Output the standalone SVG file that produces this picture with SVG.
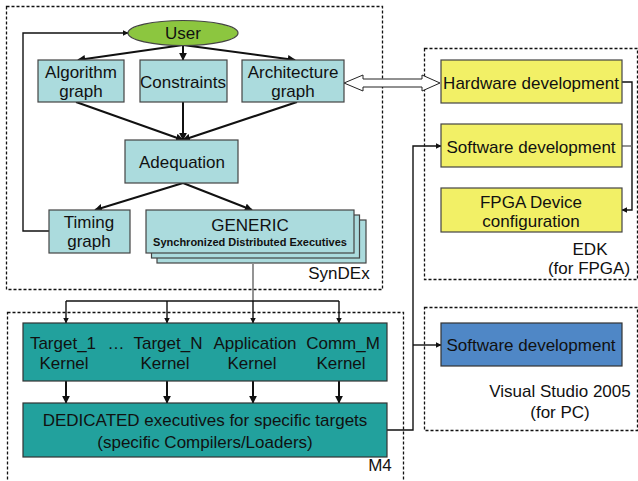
<svg xmlns="http://www.w3.org/2000/svg" width="638" height="481" viewBox="0 0 638 481">
<defs>
<style>
.t{font-family:"Liberation Sans",Arial,sans-serif;font-size:17px;fill:#111;text-anchor:middle}
.lb{fill:#abdbdd;stroke:#444;stroke-width:1.2}
.yl{fill:#f2f066;stroke:#444;stroke-width:1.2}
.tl{fill:#22a19d;stroke:#333;stroke-width:1.2}
.bl{fill:#4f87c6;stroke:#333;stroke-width:1.2}
.dash{fill:none;stroke:#111;stroke-width:1.3;stroke-dasharray:3,2}
.c{fill:none;stroke:#111;stroke-width:2}
.c1{fill:none;stroke:#111;stroke-width:1.4}
.g{fill:none;stroke:#666;stroke-width:1.4}
</style>
<marker id="a" viewBox="0 0 10 10" refX="9" refY="5" markerWidth="4" markerHeight="4" orient="auto"><path d="M0,0L10,5L0,10z" fill="#111"/></marker>
</defs>
<g id="containers">
<rect class="dash" x="6.5" y="6.5" width="376" height="283"/>
<rect class="dash" x="424.5" y="48.5" width="213" height="231"/>
<rect class="dash" x="7.5" y="312.5" width="396" height="175"/>
<rect class="dash" x="424.5" y="307.5" width="213" height="123"/>
<text class="t" x="339" y="279">SynDEx</text>
<text class="t" x="590" y="255">EDK</text>
<text class="t" x="589" y="274">(for FPGA)</text>
<text class="t" x="560" y="397">Visual Studio 2005</text>
<text class="t" x="560" y="418">(for PC)</text>
<text class="t" x="380" y="471">M4</text>
</g>
<g id="connectors">
<path class="c" d="M183,45L78,60" marker-end="url(#a)"/>
<path class="c" d="M183,45L183,60" marker-end="url(#a)"/>
<path class="c" d="M183,45L295,60" marker-end="url(#a)"/>
<path class="c" d="M76,102L183,140" marker-end="url(#a)"/>
<path class="c" d="M183,102L183,140" marker-end="url(#a)"/>
<path class="c" d="M297,102L183,140" marker-end="url(#a)"/>
<path class="c" d="M183,183L95,210" marker-end="url(#a)"/>
<path class="c" d="M183,183L252,210" marker-end="url(#a)"/>
<path class="c1" d="M49,231H23V33H128" marker-end="url(#a)"/>
<polygon points="344,83 363,75 363,79 422,79 422,75 440,83 422,91 422,87 363,87 363,91" fill="#fff" stroke="#222" stroke-width="1"/>
<path class="g" d="M253,264V301"/>
<path class="c1" d="M66,301H339"/>
<path class="c1" d="M66,301V323" marker-end="url(#a)"/>
<path class="c1" d="M167,301V323" marker-end="url(#a)"/>
<path class="c1" d="M253,301V323" marker-end="url(#a)"/>
<path class="c1" d="M339,301V323" marker-end="url(#a)"/>
<path class="c" d="M66,381V403" marker-end="url(#a)"/>
<path class="c" d="M167,381V403" marker-end="url(#a)"/>
<path class="c" d="M253,381V403" marker-end="url(#a)"/>
<path class="c" d="M339,381V403" marker-end="url(#a)"/>
<path class="c1" d="M387,430H413V146H441" marker-end="url(#a)"/>
<path class="c1" d="M413,345H441" marker-end="url(#a)"/>
<path class="c1" d="M622,82H632V210H622" marker-end="url(#a)"/>
<path class="g" d="M622,146H632"/>
</g>
<g id="user">
<ellipse cx="183" cy="33" rx="55" ry="12.5" fill="#8cc63f" stroke="#444" stroke-width="1.2"/>
<text class="t" x="183" y="39">User</text>
</g>
<g id="algorithm">
<rect class="lb" x="38" y="60" width="86" height="42"/>
<text class="t" x="81" y="78">Algorithm</text>
<text class="t" x="81" y="97">graph</text>
</g>
<g id="constraints">
<rect class="lb" x="140" y="60" width="87" height="42"/>
<text class="t" x="183" y="88">Constraints</text>
</g>
<g id="architecture">
<rect class="lb" x="242" y="60" width="102" height="42"/>
<text class="t" x="293" y="78">Architecture</text>
<text class="t" x="293" y="97">graph</text>
</g>
<g id="adequation">
<rect class="lb" x="125" y="140" width="113" height="43"/>
<text class="t" x="182" y="168">Adequation</text>
</g>
<g id="timing">
<rect class="lb" x="49" y="210" width="81" height="43"/>
<text class="t" x="89" y="228">Timing</text>
<text class="t" x="89" y="247">graph</text>
</g>
<g id="generic">
<rect class="lb" x="157" y="220" width="209" height="43"/>
<rect class="lb" x="151.5" y="215" width="208" height="43"/>
<rect class="lb" x="146" y="210" width="208" height="43"/>
<text class="t" x="250" y="231">GENERIC</text>
<text class="t" x="250" y="246" style="font-size:11px;font-weight:bold">Synchronized Distributed Executives</text>
</g>
<g id="kernels">
<rect class="tl" x="23" y="323" width="364" height="58"/>
<text class="t" x="63" y="349">Target_1</text>
<text class="t" x="64" y="369">Kernel</text>
<text class="t" x="116" y="349">…</text>
<text class="t" x="168" y="349">Target_N</text>
<text class="t" x="165" y="369">Kernel</text>
<text class="t" x="255" y="349">Application</text>
<text class="t" x="252" y="369">Kernel</text>
<text class="t" x="343" y="349">Comm_M</text>
<text class="t" x="341" y="369">Kernel</text>
</g>
<g id="dedicated">
<rect class="tl" x="23" y="403" width="364" height="54"/>
<text class="t" x="205" y="426">DEDICATED executives for specific targets</text>
<text class="t" x="205" y="448">(specific Compilers/Loaders)</text>
</g>
<g id="hw">
<rect class="yl" x="441" y="60" width="181" height="43"/>
<text class="t" x="531" y="89">Hardware development</text>
</g>
<g id="sw">
<rect class="yl" x="441" y="124" width="181" height="43"/>
<text class="t" x="531" y="153">Software development</text>
</g>
<g id="fpga">
<rect class="yl" x="441" y="188" width="181" height="44"/>
<text class="t" x="531" y="208">FPGA Device</text>
<text class="t" x="531" y="227">configuration</text>
</g>
<g id="vssw">
<rect class="bl" x="441" y="323" width="181" height="43"/>
<text class="t" x="531" y="351">Software development</text>
</g>
</svg>
